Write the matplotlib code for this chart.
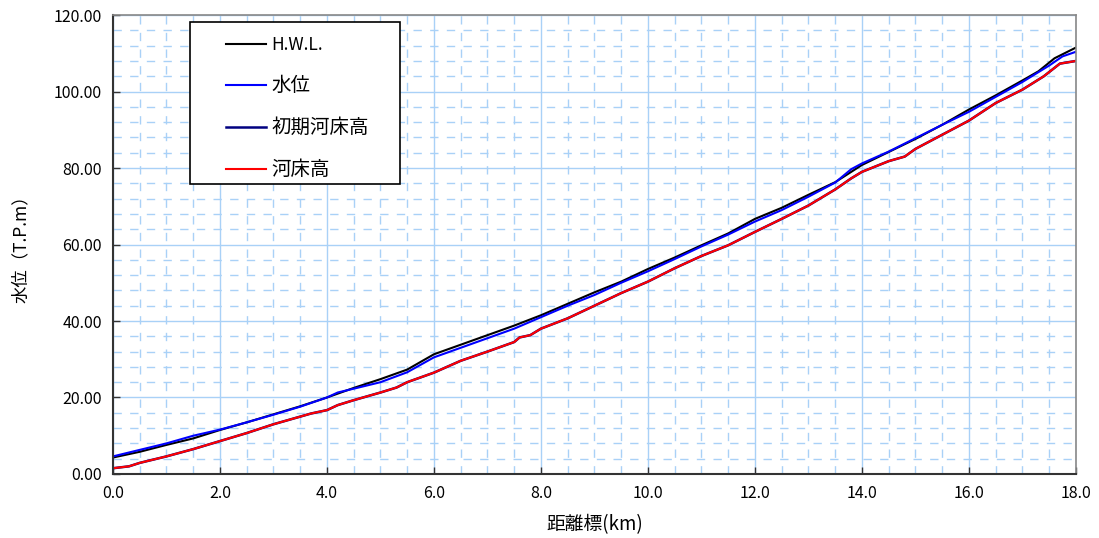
import matplotlib as mpl
mpl.use('Agg')
import matplotlib.pyplot as plt
from matplotlib.patches import Rectangle
from matplotlib.ticker import MultipleLocator, FormatStrFormatter

plt.rcParams['font.family'] = ['Noto Sans CJK JP', 'DejaVu Sans']

# H.W.L.
hwl_km = [0.0, 0.5, 1.0, 1.5, 2.0, 2.5, 3.0, 3.5, 4.0, 4.5, 5.0, 5.5, 6.0,
          6.5, 7.0, 7.5, 8.0, 8.5, 9.0, 9.5, 10.0, 10.5, 11.0, 11.5, 12.0,
          12.5, 13.0, 13.5, 14.0, 14.5, 15.0, 15.5, 16.0, 16.5, 17.0, 17.3,
          17.6, 18.0]
hwl = [4.3, 5.8, 7.6, 9.3, 11.5, 13.5, 15.6, 17.7, 20.0, 22.5, 24.8, 27.3,
       31.3, 33.8, 36.3, 38.8, 41.5, 44.5, 47.5, 50.3, 53.6, 56.6, 59.8, 62.9,
       66.7, 69.6, 73.0, 76.3, 80.8, 84.2, 87.6, 91.3, 95.3, 99.0, 102.9,
       105.3, 108.7, 111.5]

# 水位
wl_km = [0.0, 0.5, 1.0, 1.5, 2.0, 2.5, 3.0, 3.5, 4.0, 4.2, 4.5, 5.0, 5.5,
         6.0, 6.5, 7.0, 7.5, 8.0, 8.5, 9.0, 9.5, 10.0, 10.5, 11.0, 11.5,
         12.0, 12.5, 13.0, 13.5, 13.8, 14.0, 14.5, 15.0, 15.5, 16.0, 16.5,
         17.0, 17.5, 17.75, 18.0]
wl = [4.6, 6.3, 8.0, 10.0, 11.6, 13.5, 15.5, 17.6, 20.0, 21.3, 22.3, 24.0,
      26.6, 30.5, 33.0, 35.5, 38.0, 41.0, 44.0, 46.8, 50.0, 53.0, 56.2, 59.5,
      62.6, 66.0, 69.0, 72.5, 76.2, 79.7, 81.2, 84.3, 87.8, 91.3, 94.7, 98.6,
      102.5, 106.8, 109.2, 110.4]

# 河床高 / 初期河床高
bed_km = [0.0, 0.3, 0.5, 1.0, 1.5, 2.0, 2.5, 3.0, 3.5, 3.7, 4.0, 4.2, 4.5,
          5.0, 5.3, 5.5, 6.0, 6.5, 7.0, 7.5, 7.6, 7.8, 8.0, 8.5, 9.0, 9.5,
          10.0, 10.5, 11.0, 11.5, 12.0, 12.5, 13.0, 13.5, 13.8, 14.0, 14.5,
          14.8, 15.0, 15.5, 16.0, 16.5, 17.0, 17.4, 17.7, 18.0]
bed = [1.5, 2.0, 2.9, 4.6, 6.5, 8.6, 10.7, 13.0, 15.0, 15.8, 16.7, 18.0,
       19.3, 21.3, 22.6, 24.0, 26.5, 29.6, 32.0, 34.5, 35.7, 36.3, 38.0, 40.7,
       44.0, 47.3, 50.3, 53.8, 57.0, 59.8, 63.3, 66.7, 70.2, 74.4, 77.3, 79.0,
       81.8, 83.0, 85.0, 88.7, 92.4, 97.0, 100.5, 104.0, 107.3, 108.0]
bed_init = list(bed)

fig = plt.figure(figsize=(10.99, 5.38), dpi=100)
ax = fig.add_axes([0.1028, 0.119, 0.8762, 0.853])

ax.plot(hwl_km, hwl, color='black', lw=1.5, label='H.W.L.')
ax.plot(wl_km, wl, color='#0000ff', lw=1.5, label='水位')
ax.plot(bed_km, bed_init, color='#000080', lw=1.8, label='初期河床高')
ax.plot(bed_km, bed, color='#ff0000', lw=1.5, label='河床高')

ax.set_xlim(0, 18)
ax.set_ylim(0, 120)
ax.xaxis.set_major_locator(MultipleLocator(2))
ax.xaxis.set_minor_locator(MultipleLocator(0.5))
ax.yaxis.set_major_locator(MultipleLocator(20))
ax.yaxis.set_minor_locator(MultipleLocator(4))
ax.xaxis.set_major_formatter(FormatStrFormatter('%.1f'))
ax.yaxis.set_major_formatter(FormatStrFormatter('%.2f'))

gcol = '#a9d1f7'
ax.grid(which='major', color=gcol, lw=1.0, ls='-')
ax.grid(which='minor', color=gcol, lw=1.0, ls=(0, (6, 6)))
ax.set_axisbelow(True)

ax.tick_params(which='major', direction='in', length=5, width=1,
               labelsize=11.5, pad=8, color='#333333')
ax.tick_params(which='minor', length=0)
for side in ['left', 'bottom']:
    ax.spines[side].set_color('#333333')
    ax.spines[side].set_linewidth(1.5)
for side in ['top', 'right']:
    ax.spines[side].set_color('#888888')
    ax.spines[side].set_linewidth(1.2)

ax.set_xlabel('距離標(km)', fontsize=13.5, labelpad=9)
ax.set_ylabel('水位（T.P.m）', fontsize=12.5, labelpad=17)

# legend box drawn separately so it can be wider than its contents
ax.add_patch(Rectangle((0.080, 0.632), 0.218, 0.353, transform=ax.transAxes,
                       facecolor='white', edgecolor='black', lw=1.2,
                       zorder=5))
leg = ax.legend(loc='upper left', bbox_to_anchor=(0.117, 0.954), fontsize=12.5,
                frameon=False, labelspacing=1.2, handlelength=2.3,
                handletextpad=0.35, borderpad=0, borderaxespad=0)
leg.set_zorder(6)
for t in leg.get_texts()[1:]:
    t.set_fontsize(14)

fig.savefig('out.png', dpi=100)
plt.close()
